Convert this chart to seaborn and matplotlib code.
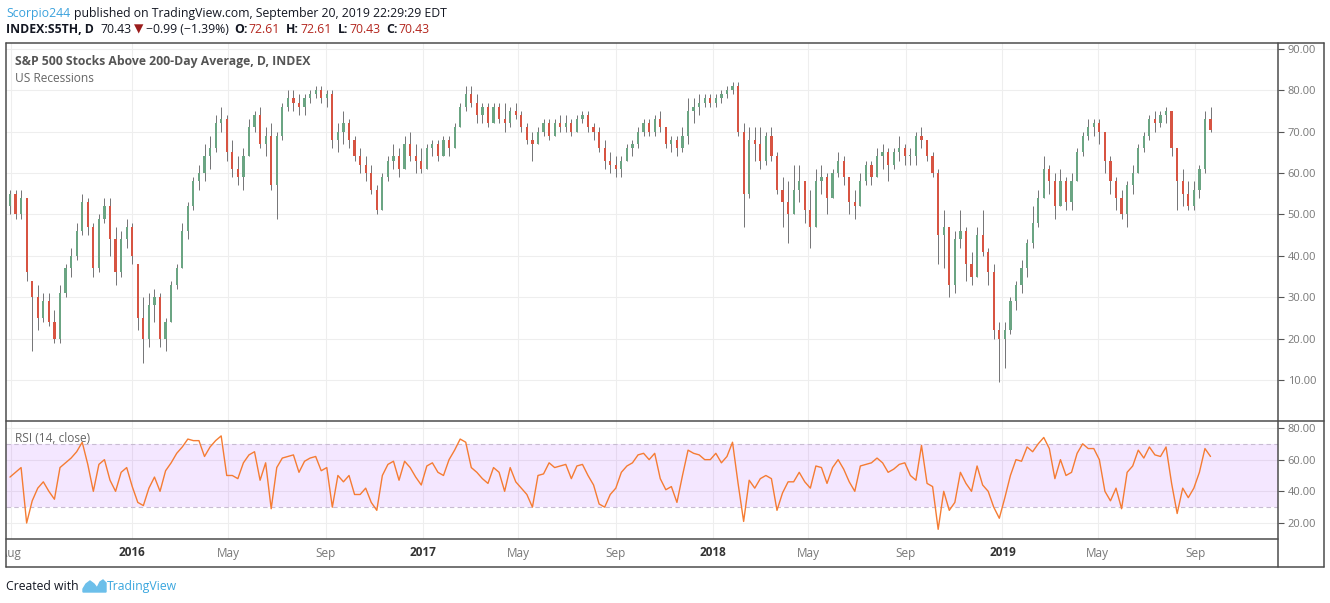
import numpy as np
import pandas as pd
import matplotlib
matplotlib.use('Agg')
import matplotlib.pyplot as plt
import matplotlib.dates as mdates
from matplotlib.lines import Line2D
from matplotlib.patches import Polygon
import seaborn as sns

# weekly bars (week ending on Friday)
first_week = '2015-07-31'
opens = [52, 55, 50, 54, 34, 30, 25, 29, 24, 20, 31, 37, 40, 46, 53, 47, 37, 49, 52, 44,
         36, 44, 47, 38, 25, 20, 28, 30, 20, 24, 33, 37, 46, 52, 58, 60, 64, 66, 72, 73,
         65, 61, 59, 64, 71, 74, 67, 69, 57, 69, 76, 78, 77, 76, 78, 79, 80, 78, 79, 68,
         70, 72, 68, 64, 62, 60, 56, 51, 59, 63, 64, 61, 67, 64, 63, 61, 66, 67, 64, 68,
         66, 71, 76, 79, 77, 74, 76, 72, 76, 73, 72, 75, 74, 71, 68, 67, 70, 72, 69, 72,
         71, 72, 70, 73, 74, 71, 70, 66, 63, 62, 61, 63, 66, 67, 70, 72, 70, 73, 71, 67,
         68, 66, 69, 75, 76, 77, 78, 77, 78, 79, 80, 81, 70, 55, 68, 67, 63, 69, 64, 56,
         53, 50, 56, 58, 51, 47, 58, 59, 54, 60, 63, 59, 53, 52, 58, 62, 59, 64, 65, 62,
         65, 66, 64, 64, 69, 68, 64, 60, 45, 47, 33, 44, 46, 38, 35, 45, 41, 36, 22, 20,
         22, 29, 33, 37, 43, 48, 54, 61, 58, 52, 58, 53, 58, 65, 69, 71, 72, 70, 63, 58,
         54, 50, 57, 60, 66, 69, 73, 72, 74, 75, 66, 58, 55, 52, 56, 61, 73]
highs = [56, 56, 56, 54, 33, 33, 31, 31, 27, 33, 38, 42, 48, 55, 54, 48, 50, 54, 54, 47,
         46, 49, 48, 38, 30, 31, 32, 31, 25, 34, 38, 48, 53, 59, 62, 67, 69, 74, 76, 74,
         68, 64, 66, 73, 75, 76, 71, 72, 70, 77, 80, 80, 79, 79, 80, 81, 81, 80, 80, 72,
         75, 73, 69, 66, 64, 62, 57, 60, 64, 67, 66, 69, 70, 67, 66, 67, 68, 68, 69, 69,
         72, 77, 81, 81, 79, 77, 77, 77, 77, 77, 76, 77, 75, 72, 70, 71, 73, 73, 73, 74,
         74, 73, 74, 75, 75, 72, 71, 68, 65, 64, 64, 67, 68, 71, 73, 73, 74, 75, 71, 69,
         69, 71, 78, 78, 79, 79, 79, 79, 80, 81, 82, 82, 72, 71, 71, 71, 70, 71, 65, 59,
         58, 62, 62, 58, 56, 61, 62, 60, 61, 65, 64, 59, 56, 60, 63, 63, 66, 67, 66, 66,
         69, 67, 66, 70, 71, 68, 65, 61, 51, 47, 46, 51, 47, 41, 47, 51, 42, 38, 24, 24,
         30, 34, 39, 44, 52, 56, 64, 62, 60, 61, 59, 60, 66, 70, 73, 73, 73, 70, 64, 59,
         56, 58, 62, 67, 70, 74, 75, 75, 76, 75, 66, 61, 58, 58, 62, 75, 76]
lows = [50, 49, 49, 34, 17, 22, 24, 23, 19, 19, 30, 35, 39, 45, 45, 35, 36, 48, 40, 33,
        35, 42, 38, 22, 14, 18, 24, 18, 17, 24, 32, 37, 44, 51, 56, 58, 61, 65, 70, 63,
        59, 57, 56, 64, 70, 66, 64, 56, 49, 68, 75, 75, 74, 74, 77, 78, 77, 76, 66, 65,
        67, 66, 63, 60, 58, 55, 50, 51, 58, 61, 59, 61, 63, 60, 60, 61, 64, 63, 64, 64,
        66, 71, 75, 76, 72, 72, 71, 72, 72, 70, 71, 73, 70, 67, 63, 67, 69, 68, 69, 70,
        70, 69, 70, 72, 70, 68, 65, 61, 60, 59, 59, 63, 64, 66, 69, 69, 69, 70, 66, 65,
        64, 65, 67, 72, 74, 76, 76, 76, 77, 78, 79, 69, 47, 54, 63, 61, 62, 63, 55, 47,
        43, 50, 53, 48, 42, 47, 55, 50, 54, 59, 57, 50, 49, 52, 57, 57, 59, 61, 58, 61,
        63, 62, 62, 62, 66, 63, 59, 38, 37, 30, 31, 42, 34, 33, 35, 40, 33, 20, 9.5, 13,
        21, 27, 31, 35, 42, 47, 54, 55, 49, 52, 51, 51, 58, 64, 68, 69, 67, 60, 55, 51,
        49, 47, 55, 60, 65, 68, 70, 71, 72, 64, 51, 52, 51, 51, 54, 60, 70]
closes = [55, 50, 54, 36, 30, 25, 29, 24, 20, 31, 37, 40, 46, 53, 47, 37, 49, 52, 44, 36,
          44, 47, 40, 25, 20, 28, 30, 20, 24, 33, 37, 46, 52, 58, 60, 64, 66, 72, 73, 65,
          61, 59, 64, 71, 74, 67, 69, 57, 69, 76, 78, 77, 76, 78, 79, 80, 78, 79, 68, 70,
          72, 68, 64, 62, 60, 56, 51, 59, 63, 64, 61, 67, 64, 63, 61, 66, 67, 64, 68, 66,
          71, 76, 79, 77, 74, 76, 72, 76, 73, 72, 75, 74, 71, 68, 67, 70, 72, 69, 72, 71,
          72, 70, 73, 74, 71, 70, 66, 63, 62, 61, 63, 66, 67, 70, 72, 70, 73, 71, 67, 68,
          66, 69, 75, 76, 77, 78, 77, 78, 79, 80, 81, 70, 55, 68, 67, 63, 69, 64, 56, 53,
          50, 56, 58, 51, 47, 58, 59, 54, 60, 63, 59, 53, 52, 58, 62, 59, 64, 65, 62, 65,
          66, 64, 64, 69, 68, 64, 60, 45, 47, 33, 44, 46, 38, 35, 45, 41, 36, 22, 20, 22,
          29, 33, 37, 43, 48, 54, 61, 58, 52, 58, 53, 58, 65, 69, 71, 72, 70, 63, 58, 54,
          50, 57, 60, 66, 69, 73, 72, 74, 75, 66, 58, 55, 52, 56, 61, 73, 70.43]
rsi = [49, 52, 55, 20, 34, 42, 46, 40, 35, 55, 58, 61, 65, 71, 57, 40, 57, 60, 47, 40,
       52, 55, 43, 33, 31, 42, 49, 40, 53, 58, 64, 68, 73, 72, 72, 62, 68, 72, 75, 50,
       50, 48, 58, 63, 65, 47, 58, 29, 55, 61, 62, 63, 52, 59, 61, 62, 53, 55, 30, 50,
       46, 50, 38, 38, 42, 33, 28, 50, 57, 59, 47, 59, 55, 49, 44, 56, 58, 52, 50, 60,
       66, 73, 71, 55, 52, 48, 45, 55, 52, 40, 55, 46, 42, 38, 30, 50, 51, 58, 55, 56,
       57, 48, 56, 57, 50, 44, 32, 30, 38, 42, 52, 56, 58, 63, 64, 60, 64, 48, 41, 43,
       33, 50, 66, 64, 63, 60, 60, 64, 58, 62, 71, 45, 21, 47, 42, 48, 50, 48, 28, 39,
       46, 46, 52, 46, 42, 56, 55, 45, 55, 60, 54, 46, 40, 56, 57, 58, 61, 58, 52, 54,
       57, 58, 50, 47, 69, 45, 43, 16, 40, 28, 33, 52, 45, 40, 56, 44, 40, 30, 23, 36,
       50, 60, 59, 68, 65, 70, 74, 67, 48, 60, 50, 52, 64, 70, 67, 67, 60, 40, 34, 42,
       29, 52, 56, 66, 61, 68, 63, 62, 68, 45, 26, 42, 36, 42, 52, 67, 62]

tick_dates = ['2015-08-01', '2016-01-01', '2016-05-01', '2016-09-01', '2017-01-01',
              '2017-05-01', '2017-09-01', '2018-01-01', '2018-05-01', '2018-09-01',
              '2019-01-01', '2019-05-01', '2019-09-01']
tick_labels = ['Aug', '2016', 'May', 'Sep', '2017', 'May', 'Sep', '2018', 'May', 'Sep',
               '2019', 'May', 'Sep']

UP, DOWN, WICK = '#6ba583', '#d75442', '#737375'
GRID = '#eeeeee'
BORDER = '#4d4d4d'
DARK = '#131722'
GRAY = '#777777'

df = pd.DataFrame({'date': pd.date_range(first_week, periods=len(closes), freq='7D'),
                   'open': opens, 'high': highs, 'low': lows, 'close': closes, 'rsi': rsi})

sns.set_style('white')
plt.rcParams['font.family'] = ['Open Sans', 'DejaVu Sans']

W, H = 1330, 603
fig = plt.figure(figsize=(W / 100, H / 100), dpi=100)


def box(x0, y0, x1, y1):
    return [x0 / W, 1 - y1 / H, (x1 - x0) / W, (y1 - y0) / H]


ax = fig.add_axes(box(6, 43, 1278, 421))
ax_rsi = fig.add_axes(box(6, 421, 1278, 539), sharex=ax)
ax_dt = fig.add_axes(box(6, 539, 1278, 567), sharex=ax)

# candles
up = df['close'] >= df['open']
ax.vlines(df['date'], df['low'], df['high'], color=WICK, lw=0.7, zorder=2)
body = (df['close'] - df['open']).abs().clip(lower=0.35)
ax.bar(df['date'], body, bottom=df[['open', 'close']].min(axis=1), width=2.8,
       color=np.where(up, UP, DOWN), lw=0, zorder=3)

ticks = [mdates.date2num(pd.Timestamp(d)) for d in tick_dates]
xmin = mdates.date2num(pd.Timestamp('2015-07-26'))
xmax = mdates.date2num(pd.Timestamp('2019-12-14'))

ax.set_xlim(xmin, xmax)
ax.set_ylim(0.1, 91.4)
ax.set_yticks(range(10, 100, 10))
ax.set_xticks(ticks)
ax.grid(True, color=GRID, lw=0.8, zorder=0)
ax.yaxis.tick_right()
ax.yaxis.set_major_formatter('{x:.2f}')
ax.tick_params(axis='x', length=0, labelbottom=False)
ax.tick_params(axis='y', length=4, width=0.8, color='#555555', labelcolor=GRAY,
               labelsize=8, pad=3)
for s in ax.spines.values():
    s.set_visible(False)

# RSI pane
ax_rsi.axhspan(30, 70, color=(0.6, 0.08, 1.0, 0.1), lw=0, zorder=1)
for lev in (30, 70):
    ax_rsi.axhline(lev, color='#c8bcd2', lw=0.8, ls=(0, (4, 3)), zorder=2)
sns.lineplot(data=df, x='date', y='rsi', ax=ax_rsi, color='#f57c33', lw=1, zorder=3)
ax_rsi.set_ylim(9.9, 84.4)
ax_rsi.set_yticks([20, 40, 60, 80])
ax_rsi.set_xticks(ticks)
ax_rsi.set_xlim(xmin, xmax)
ax_rsi.grid(True, color=GRID, lw=0.8, zorder=0)
ax_rsi.yaxis.tick_right()
ax_rsi.yaxis.set_major_formatter('{x:.2f}')
ax_rsi.set_xlabel('')
ax_rsi.set_ylabel('')
ax_rsi.tick_params(axis='x', length=3, width=0.8, color='#555555', labelbottom=False)
ax_rsi.tick_params(axis='y', length=4, width=0.8, color='#555555', labelcolor=GRAY,
                   labelsize=8, pad=3)
for s in ax_rsi.spines.values():
    s.set_visible(False)

# date labels (clipped at the left border like the original)
ax_dt.set_ylim(0, 1)
ax_dt.axis('off')
for t, lab in zip(ticks, tick_labels):
    year = lab.isdigit()
    ax_dt.text(t, 0.5, lab, ha='center', va='center', fontsize=8.5,
               fontweight='bold' if year else 'normal',
               color='#333333' if year else GRAY, clip_on=True)

# pane legends
ax.text(9 / 1272, 1 - 22 / 378, 'S&P 500 Stocks Above 200-Day Average, D, INDEX',
        transform=ax.transAxes, fontsize=8.8, fontweight='bold', color='#555555', va='baseline')
ax.text(9 / 1272, 1 - 39 / 378, 'US Recessions', transform=ax.transAxes,
        fontsize=8.6, color='#666666', va='baseline')
ax_rsi.text(9 / 1272, 1 - 21 / 118, 'RSI (14, close)', transform=ax_rsi.transAxes,
            fontsize=8.6, color='#666666', va='baseline')


# frame lines
def seg(x0, y0, x1, y1):
    fig.add_artist(Line2D([x0 / W, x1 / W], [1 - y0 / H, 1 - y1 / H], color=BORDER,
                          lw=1.1, transform=fig.transFigure))


seg(6, 43, 1324, 43)
seg(1324, 43, 1324, 567)
seg(6, 567, 1324, 567)
seg(6, 43, 6, 567)
seg(6, 421, 1324, 421)
seg(6, 539, 1278, 539)
seg(1278, 43, 1278, 567)


# header rows
def row(parts, x, y, size):
    r = fig.canvas.get_renderer()
    for s, color, weight, gap in parts:
        t = fig.text(x / W, 1 - y / H, s, fontsize=size, color=color,
                     fontweight=weight, va='baseline')
        x = t.get_window_extent(r).x1 + gap


RED = '#b3261e'
row([('Scorpio244', '#3ba2dd', 'normal', 4),
     ('published on TradingView.com, September 20, 2019 22:29:29 EDT', DARK, 'normal', 0)],
    6, 17, 8.85)
row([('INDEX:S5TH, D', DARK, 'bold', 7), ('70.43', DARK, 'normal', 2),
     ('\u25bc', '#9b1c1c', 'normal', 3), ('\u22120.99 (\u22121.39%)', DARK, 'normal', 5),
     ('O:', DARK, 'bold', 1), ('72.61', RED, 'normal', 6),
     ('H:', DARK, 'bold', 1), ('72.61', RED, 'normal', 6),
     ('L:', DARK, 'bold', 1), ('70.43', RED, 'normal', 6),
     ('C:', DARK, 'bold', 1), ('70.43', RED, 'normal', 0)],
    6, 33, 8.85)

# footer
fig.text(6 / W, 1 - 590 / H, 'Created with', fontsize=8.8, color=DARK, va='baseline')
logo = [(83, 592), (83, 589), (86, 584), (90, 581), (94, 584), (97, 588), (100, 582),
        (103, 580), (106, 583), (106, 592)]
fig.add_artist(Polygon([(px / W, 1 - py / H) for px, py in logo], closed=True,
                       color='#6cbfea', transform=fig.transFigure))
fig.text(107 / W, 1 - 590 / H, 'TradingView', fontsize=8.8, color='#3aa6de', va='baseline')

fig.savefig('out.png', dpi=100, facecolor='white')
